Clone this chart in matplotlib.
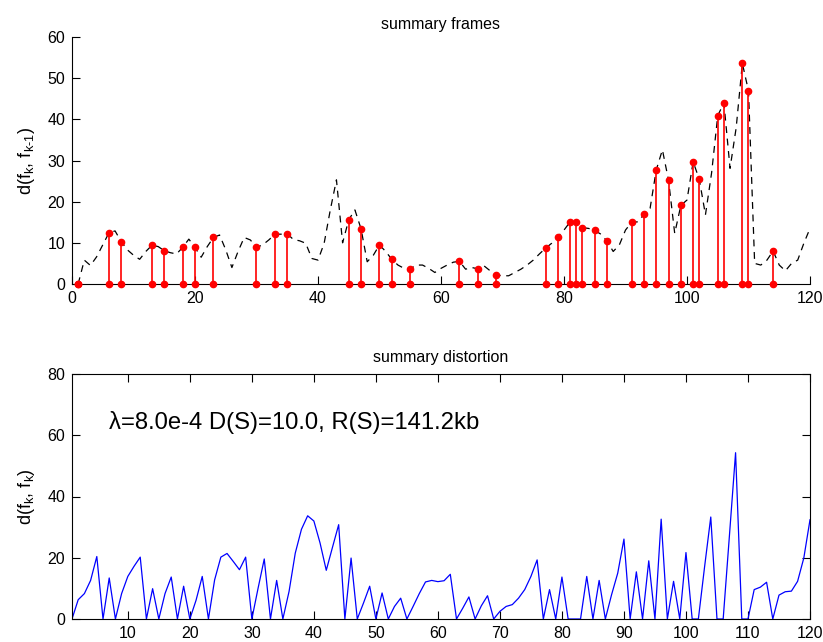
import matplotlib
matplotlib.use("Agg")
import matplotlib.pyplot as plt
import numpy as np

plt.rcParams['font.family'] = ['Liberation Sans', 'DejaVu Sans']
plt.rcParams['mathtext.fontset'] = 'custom'
plt.rcParams['mathtext.rm'] = 'Liberation Sans'
plt.rcParams['mathtext.it'] = 'Liberation Sans'

frames = list(range(1, 121))
frame_diff = [0, 5.8, 4.5, 6.6, 9.5, 12.4, 12.9, 10.3, 8.3, 7.0,
              6.0, 7.9, 9.4, 9.1, 8.1, 7.6, 7.3, 8.9, 10.9, 8.9,
              6.5, 9.1, 11.3, 11.9, 8.3, 4.0, 7.9, 11.3, 10.7, 8.9,
              9.5, 10.7, 12.1, 12.1, 12.2, 10.8, 10.5, 9.9, 6.2, 5.8,
              9.9, 18.0, 25.3, 10.0, 15.6, 18.0, 13.4, 5.4, 7.0, 9.5,
              7.9, 6.0, 4.6, 3.8, 3.7, 4.6, 4.6, 3.8, 2.8, 3.8,
              4.6, 5.3, 5.5, 3.6, 4.0, 3.7, 4.4, 3.2, 2.2, 2.0,
              2.0, 2.8, 3.6, 4.6, 5.8, 7.3, 8.7, 9.9, 11.5, 13.1,
              15.1, 15.1, 13.7, 13.5, 13.0, 12.1, 10.4, 7.9, 9.5, 13.1,
              15.0, 15.1, 16.9, 18.4, 27.7, 32.6, 25.2, 12.3, 19.1, 20.4,
              29.7, 25.4, 16.8, 27.0, 40.9, 44.0, 28.1, 38.0, 53.6, 46.9,
              5.0, 4.6, 5.8, 8.0, 4.6, 3.2, 5.0, 5.8, 9.9, 13.5]

summary_frames = [1, 6, 8, 13, 15, 18, 20, 23, 30, 33, 35, 45, 47, 50, 52, 55,
                  63, 66, 69, 77, 79, 81, 82, 83, 85, 87, 91, 93, 95, 97, 99,
                  101, 102, 105, 106, 109, 110, 114]

distortion = [0, 6.3, 8.3, 12.6, 20.4, 0, 13.4, 0, 8.3, 13.9,
              17.2, 20.2, 0, 9.9, 0, 8.3, 13.7, 0, 10.7, 0,
              6.1, 13.9, 0, 12.8, 20.2, 21.4, 18.8, 16.1, 20.2, 0,
              10.0, 19.6, 0, 12.6, 0, 9.0, 21.5, 29.3, 33.7, 32.0,
              24.8, 15.9, 23.4, 30.8, 0, 19.9, 0, 5.2, 10.7, 0,
              8.5, 0, 4.1, 6.8, 0, 4.1, 8.3, 12.1, 12.6, 12.2,
              12.5, 14.6, 0, 3.5, 7.2, 0, 4.3, 7.6, 0, 2.5,
              4.1, 4.7, 6.8, 9.6, 13.9, 19.3, 0, 9.6, 0, 13.7,
              0, 0, 0, 13.9, 0, 12.6, 0, 7.9, 15.0, 26.1,
              0, 15.4, 0, 19.0, 0, 32.6, 0, 12.3, 0, 21.7,
              0, 0, 17.0, 33.3, 0, 0, 27.0, 54.3, 0, 0,
              9.6, 10.4, 12.0, 0, 7.8, 8.9, 9.1, 12.3, 19.9, 32.4]

annotation = "\u03bb=8.0e-4 D(S)=10.0, R(S)=141.2kb"

W, H = 823, 642
fig = plt.figure(figsize=(W / 100, H / 100), dpi=100)

def ax_rect(l, t, r, b):
    return [l / W, 1 - b / H, (r - l) / W, (b - t) / H]

FS = 11.5

# ---- top axes ----
ax1 = fig.add_axes(ax_rect(72, 37, 810, 284))
ax1.plot(frames, frame_diff, color='black', lw=0.9, linestyle=(0, (5.5, 4.5)))
stem_vals = [frame_diff[f - 1] for f in summary_frames]
ax1.vlines(summary_frames, 0, stem_vals, color='red', lw=1.2, zorder=3)
ax1.plot(summary_frames, stem_vals, 'o', color='red', ms=4.5, zorder=4, clip_on=False)
ax1.plot(summary_frames, [0] * len(summary_frames), 'o', color='red', ms=4.5,
         zorder=4, clip_on=False)
ax1.set_xlim(0, 120)
ax1.set_ylim(0, 60)
ax1.set_xticks(range(0, 121, 20))
ax1.set_yticks(range(0, 61, 10))
ax1.spines['top'].set_visible(False)
ax1.spines['right'].set_visible(False)
ax1.tick_params(direction='in', length=6, width=0.8, labelsize=FS, pad=5)
ax1.set_title("summary frames", fontsize=FS, pad=6)
ax1.set_ylabel(r"d(f$_\mathregular{k}$, f$_\mathregular{k\text{-}1}$)", fontsize=13, labelpad=7)

# ---- bottom axes ----
ax2 = fig.add_axes(ax_rect(72, 374, 810, 619))
ax2.plot(frames, distortion, color='blue', lw=0.9)
ax2.set_xlim(1, 120)
ax2.set_ylim(0, 80)
ax2.set_xticks(range(10, 121, 10))
ax2.set_yticks(range(0, 81, 20))
ax2.tick_params(direction='in', length=6, width=0.8, labelsize=FS, pad=5,
                top=True, right=True)
ax2.set_title("summary distortion", fontsize=FS, pad=9)
ax2.set_ylabel(r"d(f$_\mathregular{k}$, f$_\mathregular{k}$)", fontsize=13, labelpad=7)
ax2.text(6.9, 64, annotation, fontsize=17.2, va='center', ha='left')

fig.savefig("out.png", dpi=100)
